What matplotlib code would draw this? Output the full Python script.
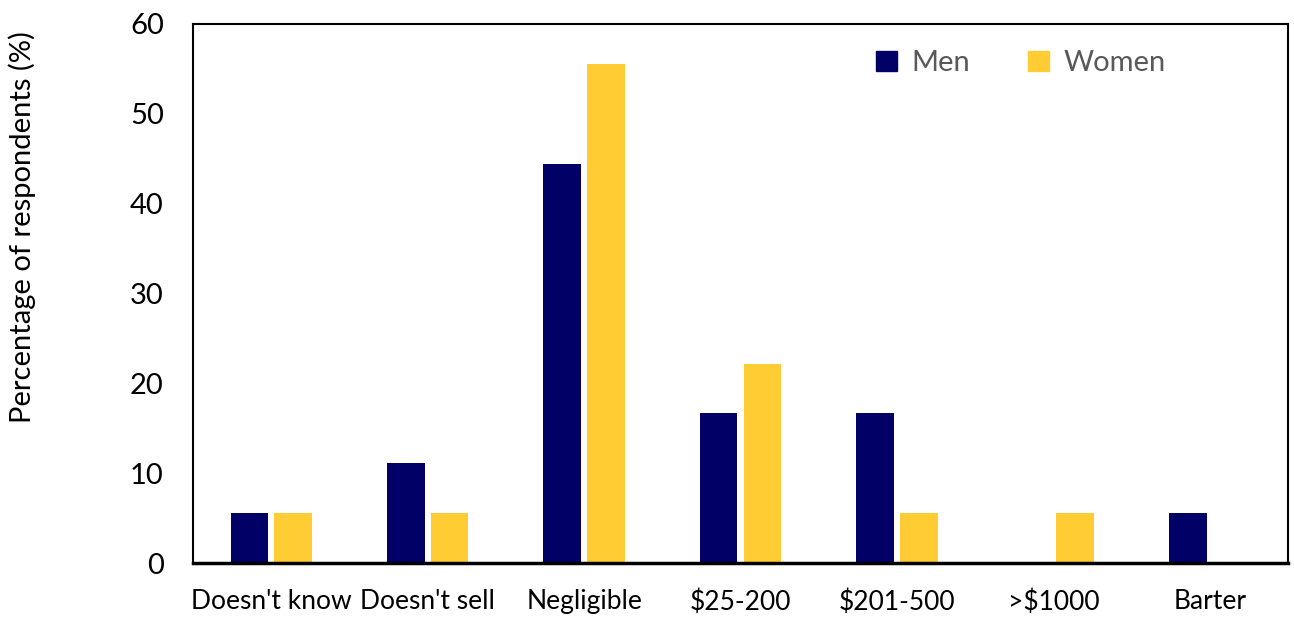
import numpy as np
import matplotlib.pyplot as plt
from matplotlib.patches import Patch

# Income from sales, by gender
categories = ["Doesn't know", "Doesn't sell", "Negligible", "$25-200", "$201-500", ">$1000", "Barter"]
men = [5.6, 11.1, 44.4, 16.7, 16.7, 0, 5.6]
women = [5.6, 5.6, 55.6, 22.2, 5.6, 5.6, 0]

men_color = '#000066'
women_color = '#FFCC33'

plt.rcParams['font.family'] = ['Lato', 'DejaVu Sans']

fig = plt.figure(figsize=(12.94, 6.17), dpi=100)
ax = fig.add_axes([193 / 1294, 1 - 563 / 617, (1288 - 193) / 1294, (563 - 24) / 617])

x = np.arange(len(categories))
w = 0.24
ax.bar(x - 0.14, men, width=w, color=men_color, label='Men')
ax.bar(x + 0.14, women, width=w, color=women_color, label='Women')

ax.set_xlim(-0.5, len(categories) - 0.5)
ax.set_ylim(0, 60)
ax.set_yticks(range(0, 61, 10))
ax.set_xticks(x)
ax.set_xticklabels(categories, fontsize=19)
ax.tick_params(axis='y', labelsize=21, length=0, pad=21)
ax.tick_params(axis='x', length=0, pad=19)
for s in ax.spines.values():
    s.set_linewidth(1.5)
    s.set_color('black')
ax.spines['bottom'].set_linewidth(2.5)

ax.set_ylabel('Percentage of respondents (%)', fontsize=21)
ax.yaxis.set_label_coords(-0.143, 0.623)

handles = [Patch(color=men_color), Patch(color=women_color)]
leg = ax.legend(handles, ['Men', 'Women'], loc='upper left', bbox_to_anchor=(0.6, 1.0),
                ncol=2, frameon=False, fontsize=21, handlelength=0.7, handleheight=0.7,
                handletextpad=0.5, columnspacing=2.0)
for t in leg.get_texts():
    t.set_color('#595959')

fig.savefig('out.png', dpi=100)
